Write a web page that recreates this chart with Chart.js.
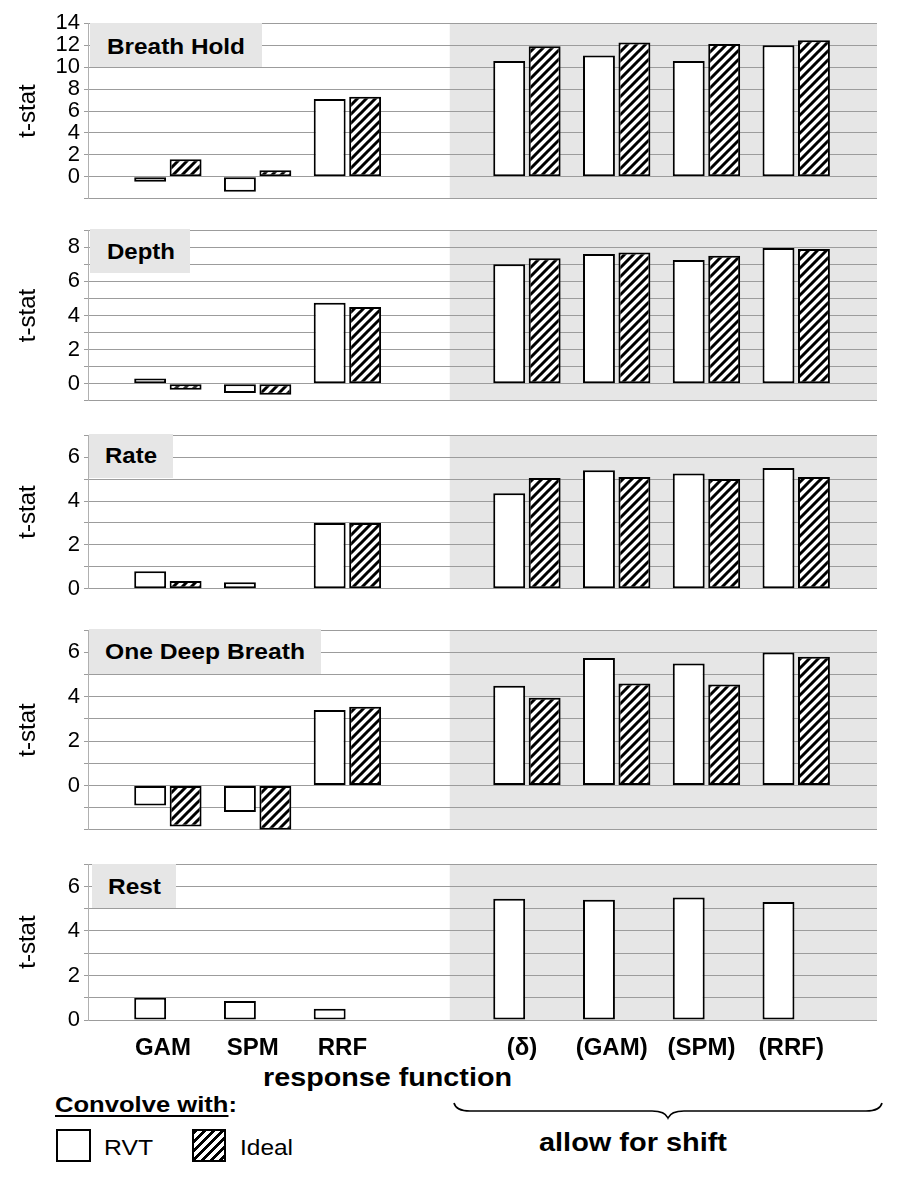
<!DOCTYPE html>
<html><head><meta charset="utf-8">
<script src="https://cdn.jsdelivr.net/npm/chart.js@4.4.1/dist/chart.umd.min.js"></script>
<style>
html,body{margin:0;padding:0;background:#fff}
body{width:909px;height:1177px;position:relative;overflow:hidden;font-family:"Liberation Sans",Arial,Helvetica,sans-serif;color:#000}
canvas{position:absolute;left:0}
.box{position:absolute;background:#e6e6e6}
.t{position:absolute;white-space:nowrap;transform-origin:0 0;display:inline-block}
.leg{position:absolute;box-sizing:border-box;border:2px solid #000;background:#fff}
u{text-decoration-thickness:2px;text-underline-offset:3px}
</style></head><body>
<script>
// ---------- data ----------
const categories = ["GAM","SPM","RRF","","(δ)","(GAM)","(SPM)","(RRF)"];
const panelNames = ["Breath Hold","Depth","Rate","One Deep Breath","Rest"];
const seriesNames = ["RVT","Ideal"];

const breathHoldRVT   = [-0.45, -1.35, 7.1, null, 10.55, 11.05, 10.55, 12.0];
const breathHoldIdeal = [1.6, 0.6, 7.3, null, 11.9, 12.25, 12.1, 12.45];
const depthRVT        = [0.3, -0.55, 4.75, null, 7.0, 7.6, 7.25, 7.95];
const depthIdeal      = [-0.35, -0.65, 4.5, null, 7.35, 7.7, 7.5, 7.9];
const rateRVT         = [0.8, 0.3, 3.0, null, 4.35, 5.4, 5.25, 5.5];
const rateIdeal       = [0.35, null, 3.0, null, 5.05, 5.1, 5.0, 5.1];
const oneDeepRVT      = [-0.9, -1.2, 3.4, null, 4.5, 5.75, 5.5, 6.0];
const oneDeepIdeal    = [-1.85, -2.0, 3.55, null, 3.95, 4.6, 4.55, 5.8];
const restRVT         = [1.0, 0.85, 0.5, null, 5.45, 5.4, 5.5, 5.3];
const restIdeal       = [null, null, null, null, null, null, null, null];

const breathHoldTicks = [0, 2, 4, 6, 8, 10, 12, 14];
const depthTicks      = [0, 2, 4, 6, 8];
const rateTicks       = [0, 2, 4, 6];
const oneDeepTicks    = [0, 2, 4, 6];
const restTicks       = [0, 2, 4, 6];

// ---------- layout ----------
const FONT = '"Liberation Sans", Arial, Helvetica, sans-serif';
const shiftStart = 3.14; // start of grey "allow for shift" region, in category units

const panels = [
  {name: panelNames[0], rvt: breathHoldRVT, ideal: breathHoldIdeal, ticks: breathHoldTicks,
   top: 22, bottom: 200, min: -2, max: 14, step: 2, box: [90, 23, 172, 44], text: [107, 55, 138]},
  {name: panelNames[1], rvt: depthRVT, ideal: depthIdeal, ticks: depthTicks,
   top: 229, bottom: 402, min: -1, max: 9, step: 1, box: [90, 229, 100, 44], text: [107, 260, 68]},
  {name: panelNames[2], rvt: rateRVT, ideal: rateIdeal, ticks: rateTicks,
   top: 434, bottom: 590, min: 0, max: 7, step: 1, box: [89, 434, 84, 44], text: [105, 464, 52]},
  {name: panelNames[3], rvt: oneDeepRVT, ideal: oneDeepIdeal, ticks: oneDeepTicks,
   top: 629, bottom: 831, min: -2, max: 7, step: 1, box: [89, 629, 232, 45], text: [105, 660, 200]},
  {name: panelNames[4], rvt: restRVT, ideal: restIdeal, ticks: restTicks,
   top: 863, bottom: 1020, min: 0, max: 7, step: 1, box: [92, 864, 84, 44], text: [108, 895, 53], xLabels: true}
];

function makeHatch() {
  const c = document.createElement('canvas');
  c.width = 9; c.height = 9;
  const g = c.getContext('2d');
  g.fillStyle = '#fff'; g.fillRect(0, 0, 9, 9);
  g.strokeStyle = '#000'; g.lineWidth = 3;
  g.beginPath();
  g.moveTo(-1, 10); g.lineTo(10, -1);
  g.moveTo(-3, 3); g.lineTo(3, -3);
  g.moveTo(6, 12); g.lineTo(12, 6);
  g.stroke();
  return g.createPattern(c, 'repeat');
}
const hatch = makeHatch();

const shadePlugin = {
  id: 'shade',
  beforeDraw(chart) {
    const {ctx, chartArea: a} = chart;
    const x0 = chart.scales.x.getPixelForValue(shiftStart);
    ctx.save();
    ctx.fillStyle = '#e6e6e6';
    ctx.fillRect(x0, a.top, a.right - x0, a.bottom - a.top);
    ctx.restore();
  }
};

panels.forEach(p => {
  const padTop = 16;
  const padBottom = p.xLabels ? 0 : 16;
  const xH = p.xLabels ? 40 : 0;
  const h = (p.bottom - p.top) + padTop + padBottom + xH;
  const cv = document.createElement('canvas');
  cv.width = 909; cv.height = h;
  cv.style.width = '909px'; cv.style.height = h + 'px';
  cv.style.top = (p.top - padTop) + 'px';
  document.body.appendChild(cv);
  const barOpts = {borderColor: '#000', borderWidth: 2, borderSkipped: false, categoryPercentage: 0.79, barPercentage: 0.9};
  new Chart(cv, {
    type: 'bar',
    data: {
      datasets: [
        Object.assign({label: seriesNames[0], data: p.rvt.map((v, i) => ({x: i, y: v})), backgroundColor: '#fff'}, barOpts),
        Object.assign({label: seriesNames[1], data: p.ideal.map((v, i) => ({x: i, y: v})), backgroundColor: hatch}, barOpts)
      ]
    },
    options: {
      responsive: false, animation: false, devicePixelRatio: 1,
      layout: {padding: {top: padTop, right: 32, bottom: padBottom, left: 0}},
      plugins: {legend: {display: false}, tooltip: {enabled: false}},
      scales: {
        x: {
          type: 'linear', min: -0.89, max: 7.9, offset: false, display: !!p.xLabels,
          grid: {display: false, offset: false}, border: {display: false},
          afterBuildTicks: s => { s.ticks = categories.map((c, i) => ({value: i})); },
          afterFit: s => { s.height = xH; },
          ticks: {
            callback: (v, i) => categories[i],
            font: {family: FONT, size: 24, weight: 'bold'}, color: '#000',
            padding: 6, maxRotation: 0, minRotation: 0, autoSkip: false, labelOffset: -5
          }
        },
        y: {
          min: p.min, max: p.max,
          afterFit: s => { s.width = 88; },
          grid: {color: '#9c9c9c', lineWidth: 1, tickLength: 4, drawTicks: true},
          border: {color: '#b0b0b0', width: 1},
          ticks: {
            stepSize: p.step, autoSkip: false, padding: 4,
            callback: v => (p.ticks.includes(v) ? String(v) : ''),
            font: {family: FONT, size: 22}, color: '#000'
          },
          title: {display: true, text: 't-stat', font: {family: FONT, size: 24}, color: '#000', padding: {top: 14, bottom: 0}}
        }
      }
    },
    plugins: [shadePlugin]
  });
});

// ---------- overlay text ----------
function addText(html, left, baseline, size, weight, width) {
  const el = document.createElement('span');
  el.className = 't';
  el.style.fontSize = size + 'px';
  el.style.lineHeight = size + 'px';
  el.style.fontWeight = weight;
  el.innerHTML = html;
  el.style.left = left + 'px';
  el.style.top = (baseline - size * 0.8465) + 'px';
  document.body.appendChild(el);
  if (width) {
    const w = el.getBoundingClientRect().width;
    el.style.transform = 'scaleX(' + (width / w) + ')';
  }
  return el;
}
function addBox(cls, l, t, w, h) {
  const d = document.createElement('div');
  d.className = cls;
  d.style.left = l + 'px'; d.style.top = t + 'px';
  d.style.width = w + 'px'; d.style.height = h + 'px';
  document.body.appendChild(d);
  return d;
}

panels.forEach(p => {
  addBox('box', p.box[0], p.box[1], p.box[2], p.box[3]);
  addText(p.name, p.text[0], p.text[1], 22, 'bold', p.text[2]);
});

addText('response function', 263, 1086, 26, 'bold', 249);
addText('<u>Convolve with</u>:', 55, 1113, 22, 'bold', 182);
addBox('leg', 56, 1129, 35, 33);
const hb = addBox('leg', 192, 1129, 34, 33);
hb.style.background = 'repeating-linear-gradient(135deg,#000 0,#000 2.2px,#fff 2.2px,#fff 6.36px)';
addText(seriesNames[0], 104, 1156, 22, 'normal', 49);
addText(seriesNames[1], 240, 1156, 22, 'normal', 53);
addText('allow for shift', 539, 1151, 26, 'bold', 188);

const svgNS = 'http://www.w3.org/2000/svg';
const svg = document.createElementNS(svgNS, 'svg');
svg.setAttribute('width', '909'); svg.setAttribute('height', '1177');
svg.style.position = 'absolute'; svg.style.left = '0'; svg.style.top = '0';
const path = document.createElementNS(svgNS, 'path');
path.setAttribute('d', 'M454,1103 Q456,1111 470,1111 L652,1111 Q665,1111 668,1118 Q671,1111 684,1111 L866,1111 Q880,1111 882,1103');
path.setAttribute('fill', 'none'); path.setAttribute('stroke', '#000'); path.setAttribute('stroke-width', '1.6');
svg.appendChild(path);
document.body.appendChild(svg);
</script>
</body></html>
